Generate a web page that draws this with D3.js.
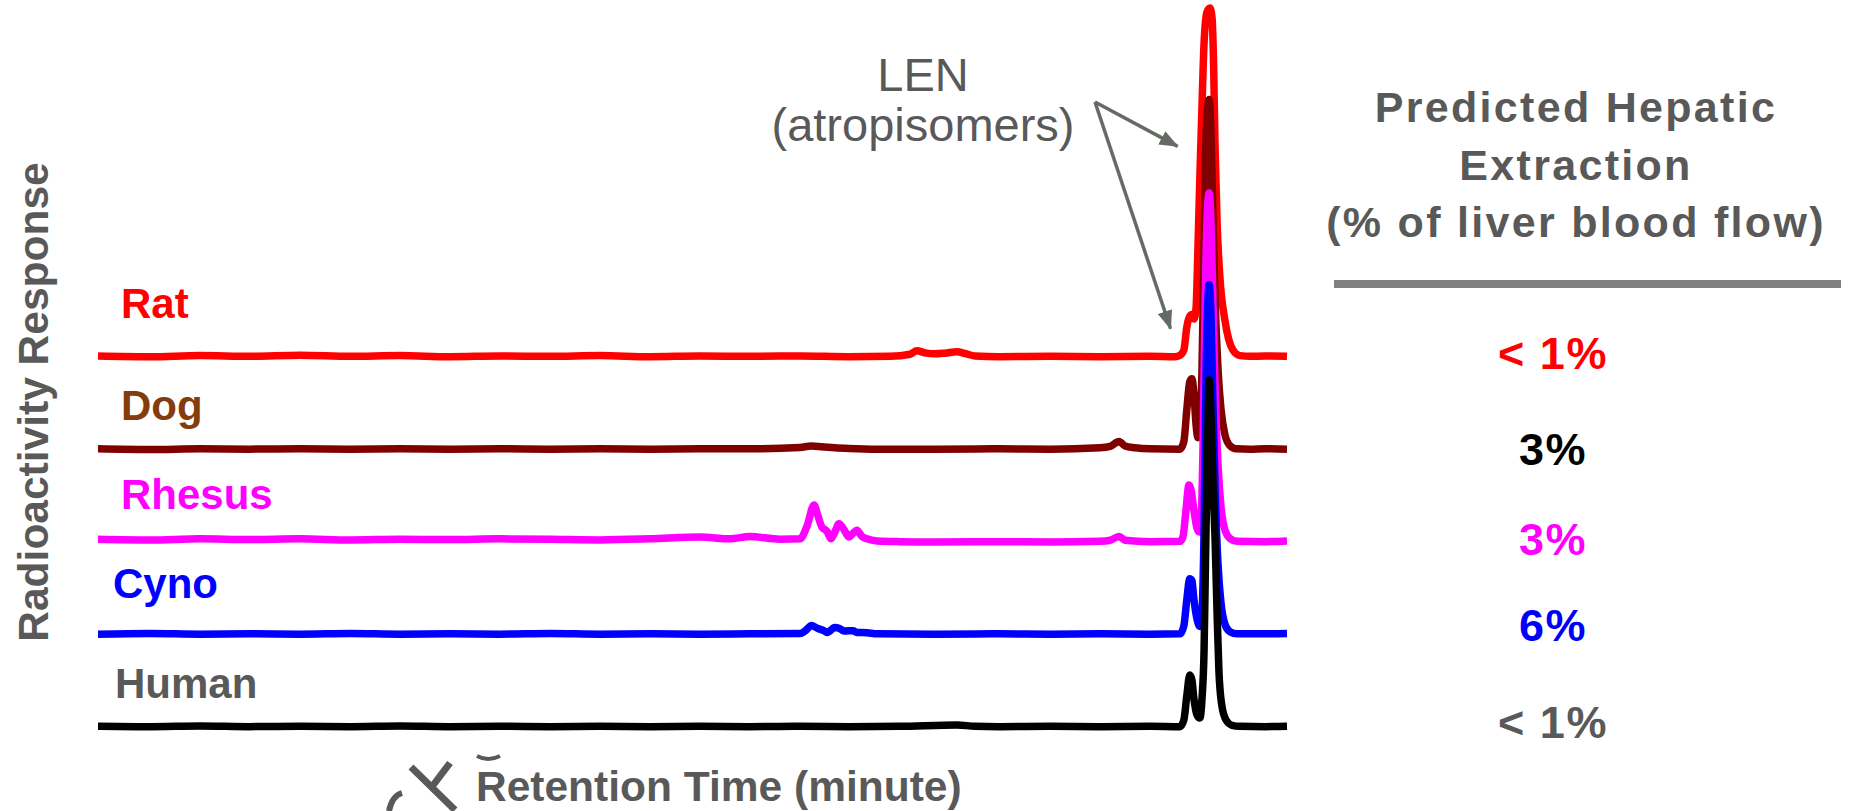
<!DOCTYPE html>
<html>
<head>
<meta charset="utf-8">
<script src="https://cdn.jsdelivr.net/npm/d3@7/dist/d3.min.js"></script>
<style>
  html, body { margin: 0; padding: 0; background: #ffffff; }
  svg { display: block; font-family: "Liberation Sans", Arial, sans-serif; }
</style>
</head>
<body>
<svg id="chart" width="1854" height="811"></svg>
<script>
// ---------------- DATA ----------------
const species = ["Rat", "Dog", "Rhesus", "Cyno", "Human"];
const extraction = ["< 1%", "3%", "3%", "6%", "< 1%"];
const yAxisTitle = "Radioactivity Response";
const xAxisTitle = "Retention Time (minute)";
const panelTitle = ["Predicted Hepatic", "Extraction", "(% of liver blood flow)"];
const annotation = ["LEN", "(atropisomers)"];
const timeDomain = [0, 40];          // retention time (min), full trace span
const responseDomain = [0, 100];     // normalised radioactivity (main LEN peak = 100)

// [retention time (min), normalised response]
const ratTrace = [
  [0, 0.3], [1.75, 0.1], [3.43, 0.4], [5.11, 0.2], [6.80, 0.5], [8.48, 0.2], [10.16, 0.4],
  [11.84, 0.1], [13.52, 0.3], [15.21, 0.2], [16.89, 0.4], [18.57, 0.1], [20.25, 0.3],
  [21.93, 0.2], [23.62, 0.3], [25.26, 0.1], [26.64, 0.2], [27.32, 0.8], [27.55, 1.8],
  [27.82, 1.2], [28.16, 0.9], [28.49, 1.1], [28.90, 1.5], [29.17, 1.0], [29.50, 0.3],
  [30.34, 0.1], [32.03, 0.2], [33.71, 0.1], [35.39, 0.2], [36.23, 0.1], [36.40, 0.5],
  [36.53, 2.0], [36.63, 8.6], [36.73, 11.7], [36.80, 12.2], [36.87, 10.9], [36.94, 14.0],
  [37.00, 30], [37.07, 52], [37.14, 72], [37.21, 90], [37.31, 98.9], [37.41, 100],
  [37.48, 97], [37.53, 84], [37.58, 60], [37.65, 38], [37.75, 22], [37.91, 10.6],
  [38.04, 5], [38.18, 2], [38.42, 0.4], [38.76, 0.2], [39.26, 0.3], [40, 0.2]
];
const dogTrace = [
  [0, 0.2], [1.75, 0], [3.43, 0.2], [5.11, 0.1], [6.80, 0.2], [8.48, 0.1], [10.16, 0.2],
  [11.84, 0.1], [13.52, 0.2], [15.21, 0.1], [16.89, 0.2], [18.57, 0.1], [20.25, 0.2],
  [21.93, 0.2], [23.62, 0.6], [23.99, 1.0], [24.35, 0.8], [24.79, 0.5], [25.26, 0.3],
  [26.21, 0.1], [28.16, 0.1], [30.34, 0.2], [32.03, 0.1], [33.71, 0.5], [34.05, 0.9],
  [34.35, 2.3], [34.55, 1.0], [34.89, 0.5], [35.39, 0.2], [36.40, 0.1], [36.53, 2.3],
  [36.63, 11.5], [36.73, 19.5], [36.80, 20.3], [36.87, 15.8], [36.94, 7.2], [37.00, 3.4],
  [37.07, 5.7], [37.14, 22.9], [37.21, 57.3], [37.27, 88.8], [37.38, 100.3], [37.44, 91.7],
  [37.51, 65.9], [37.58, 43], [37.68, 22.9], [37.78, 11.5], [37.91, 4.3], [38.08, 1.1],
  [38.28, 0.2], [38.76, 0.1], [39.26, 0.2], [40, 0.1]
];
const rhesusTrace = [
  [0, 0.8], [1.75, 0.6], [3.43, 0.9], [5.11, 0.7], [6.80, 0.9], [8.48, 0.6], [10.16, 0.8],
  [11.84, 0.7], [13.52, 0.9], [15.21, 0.8], [16.89, 0.6], [18.57, 0.9], [20.25, 1.4],
  [21.25, 0.9], [21.93, 1.6], [22.94, 0.8], [23.62, 0.9], [23.85, 4.5], [24.09, 10.6],
  [24.22, 7.5], [24.35, 4.3], [24.53, 3.0], [24.66, 0.9], [24.79, 2.9], [24.93, 5.2],
  [25.10, 3.5], [25.26, 1.4], [25.40, 2.5], [25.53, 3.4], [25.70, 1.6], [25.87, 0.9],
  [26.21, 0.3], [26.98, 0.1], [28.16, 0], [30.34, 0.1], [32.03, 0], [33.71, 0.2],
  [34.05, 0.5], [34.35, 1.6], [34.55, 0.5], [35.39, 0.1], [36.40, 0.2], [36.50, 1.5],
  [36.60, 9], [36.70, 16.3], [36.77, 15], [36.87, 9], [36.97, 4], [37.04, 2.9], [37.10, 5],
  [37.17, 25], [37.24, 65], [37.31, 93], [37.38, 100], [37.44, 92], [37.51, 68], [37.58, 44],
  [37.68, 22], [37.78, 10], [37.91, 3.5], [38.08, 1], [38.32, 0.2], [39.26, 0.1], [40, 0.3]
];
const cynoTrace = [
  [0, 0.1], [1.75, 0.3], [3.43, 0.1], [5.11, 0.2], [6.80, 0.1], [8.48, 0.3], [10.16, 0.1],
  [11.84, 0.2], [13.52, 0.1], [15.21, 0.3], [16.89, 0.1], [18.57, 0.2], [20.25, 0.1],
  [21.93, 0.2], [23.62, 0.3], [23.85, 1.5], [23.99, 2.6], [24.22, 1.7], [24.40, 1.2],
  [24.53, 0.6], [24.79, 2.0], [24.93, 1.8], [25.10, 1.0], [25.40, 1.1], [25.53, 0.6],
  [25.87, 0.5], [26.21, 0.2], [28.16, 0.1], [30.34, 0.2], [32.03, 0.1], [33.71, 0.2],
  [35.39, 0.1], [36.40, 0.2], [36.53, 2.5], [36.63, 10], [36.73, 16], [36.80, 15.5],
  [36.87, 10], [36.97, 4.5], [37.07, 2.3], [37.14, 6], [37.21, 30], [37.27, 70],
  [37.38, 100.3], [37.44, 92], [37.51, 66], [37.58, 42], [37.68, 20], [37.78, 9],
  [37.91, 3], [38.08, 0.8], [38.32, 0.2], [39.26, 0.2], [40, 0.3]
];
const humanTrace = [
  [0, 0.2], [1.75, 0.1], [3.43, 0.3], [5.11, 0.1], [6.80, 0.2], [8.48, 0.1], [10.16, 0.3],
  [11.84, 0.1], [13.52, 0.2], [15.21, 0.1], [16.89, 0.2], [18.57, 0.1], [20.25, 0.2],
  [21.93, 0.1], [23.62, 0.2], [25.26, 0.1], [26.98, 0.2], [28.90, 0.6], [29.50, 0.2],
  [30.34, 0.1], [32.03, 0.2], [33.71, 0.1], [35.39, 0.2], [36.40, 0.1], [36.53, 2],
  [36.63, 9], [36.73, 14.9], [36.80, 13.5], [36.87, 8], [36.97, 3.5], [37.07, 2.6],
  [37.14, 8], [37.21, 22], [37.27, 54], [37.34, 85], [37.38, 99.4], [37.44, 90],
  [37.51, 70], [37.58, 54], [37.65, 32], [37.71, 16], [37.81, 6], [37.95, 2],
  [38.15, 0.5], [38.42, 0.2], [39.26, 0.1], [40, 0.2]
];
const traces = [ratTrace, dogTrace, rhesusTrace, cynoTrace, humanTrace];

// ---------------- STYLE / LAYOUT ----------------
const traceColor = ["#FF0000", "#800000", "#FF00FF", "#0000FF", "#000000"];
const labelColor = ["#FF0000", "#843C0C", "#FF00FF", "#0000FF", "#595959"];
const valueColor = ["#FF0000", "#000000", "#FF00FF", "#0000FF", "#595959"];
const gray = "#595959";
const labelX = [121, 121, 121, 113, 115];
const labelY = [318, 420, 509, 598, 698];
const valueY = [369, 465, 555, 641, 738];

const svg = d3.select("#chart");

const x = d3.scaleLinear().domain(timeDomain).range([98, 1287]);
const base = d3.scalePoint().domain(species).range([357, 727]);
const resp = d3.scaleLinear().domain(responseDomain).range([0, 349]);

// traces
species.forEach((s, i) => {
  const line = d3.line()
    .x(d => x(d[0]))
    .y(d => base(s) - resp(d[1]))
    .curve(d3.curveMonotoneX);
  svg.append("path")
    .datum(traces[i])
    .attr("d", line)
    .attr("fill", "none")
    .attr("stroke", traceColor[i])
    .attr("stroke-width", 7.5)
    .attr("stroke-linejoin", "round");
});

// species labels
svg.selectAll("text.species")
  .data(species)
  .join("text")
  .attr("class", "species")
  .attr("x", (d, i) => labelX[i])
  .attr("y", (d, i) => labelY[i])
  .attr("fill", (d, i) => labelColor[i])
  .attr("font-size", 42)
  .attr("font-weight", "bold")
  .text(d => d);

// y axis title
svg.append("text")
  .attr("transform", "translate(48,402) rotate(-90)")
  .attr("text-anchor", "middle")
  .attr("fill", gray)
  .attr("font-size", 42.5)
  .attr("font-weight", "bold")
  .text(yAxisTitle);

// x axis title
svg.append("text")
  .attr("x", 476)
  .attr("y", 801)
  .attr("fill", gray)
  .attr("font-size", 42.5)
  .attr("font-weight", "bold")
  .text(xAxisTitle);

// stray clipped stroke fragment to the left of the x title (decoration)
svg.append("path")
  .attr("d", "M411,767 L455,810 M450,763 L431,788")
  .attr("fill", "none")
  .attr("stroke", gray)
  .attr("stroke-width", 7);
svg.append("path")
  .attr("d", "M477,756 Q488,762 500,756")
  .attr("fill", "none")
  .attr("stroke", gray)
  .attr("stroke-width", 4);
svg.append("path")
  .attr("d", "M402,793 Q392,796 389,811")
  .attr("fill", "none")
  .attr("stroke", gray)
  .attr("stroke-width", 6);

// right panel title
svg.selectAll("text.ptitle")
  .data(panelTitle)
  .join("text")
  .attr("class", "ptitle")
  .attr("x", 1576)
  .attr("y", (d, i) => [122, 180, 237][i])
  .attr("text-anchor", "middle")
  .attr("fill", gray)
  .attr("font-size", 43)
  .attr("font-weight", "bold")
  .attr("letter-spacing", 2.3)
  .text(d => d);

svg.append("line")
  .attr("x1", 1334).attr("x2", 1841)
  .attr("y1", 284).attr("y2", 284)
  .attr("stroke", "#808080")
  .attr("stroke-width", 8);

// extraction values
svg.selectAll("text.val")
  .data(extraction)
  .join("text")
  .attr("class", "val")
  .attr("x", 1553)
  .attr("y", (d, i) => valueY[i])
  .attr("text-anchor", "middle")
  .attr("fill", (d, i) => valueColor[i])
  .attr("font-size", 45)
  .attr("font-weight", "bold")
  .attr("letter-spacing", 1.5)
  .text(d => d);

// LEN annotation
svg.selectAll("text.ann")
  .data(annotation)
  .join("text")
  .attr("class", "ann")
  .attr("x", 923)
  .attr("y", (d, i) => [91, 141][i])
  .attr("text-anchor", "middle")
  .attr("fill", gray)
  .attr("font-size", 47)
  .text(d => d);

// arrows
const arrowColor = "#646a64";
svg.append("defs").append("marker")
  .attr("id", "ah")
  .attr("markerUnits", "userSpaceOnUse")
  .attr("viewBox", "0 0 19 15")
  .attr("refX", 18).attr("refY", 7.5)
  .attr("markerWidth", 19).attr("markerHeight", 15)
  .attr("orient", "auto")
  .append("path")
  .attr("d", "M0,0 L19,7.5 L0,15 Z")
  .attr("fill", arrowColor);

const origin = [1095, 102];
const tips = [[1190, 153], [1175, 342]];
tips.forEach(t => {
  const dx = t[0] - origin[0], dy = t[1] - origin[1];
  const L = Math.hypot(dx, dy);
  const ex = t[0] - dx / L * 15, ey = t[1] - dy / L * 15;
  svg.append("line")
    .attr("x1", origin[0]).attr("y1", origin[1])
    .attr("x2", ex).attr("y2", ey)
    .attr("stroke", arrowColor)
    .attr("stroke-width", 3.5);
  svg.append("line")
    .attr("x1", ex).attr("y1", ey)
    .attr("x2", ex + dx / L * 1).attr("y2", ey + dy / L * 1)
    .attr("stroke", arrowColor)
    .attr("stroke-width", 3.5)
    .attr("marker-end", "url(#ah)");
});
</script>
</body>
</html>
